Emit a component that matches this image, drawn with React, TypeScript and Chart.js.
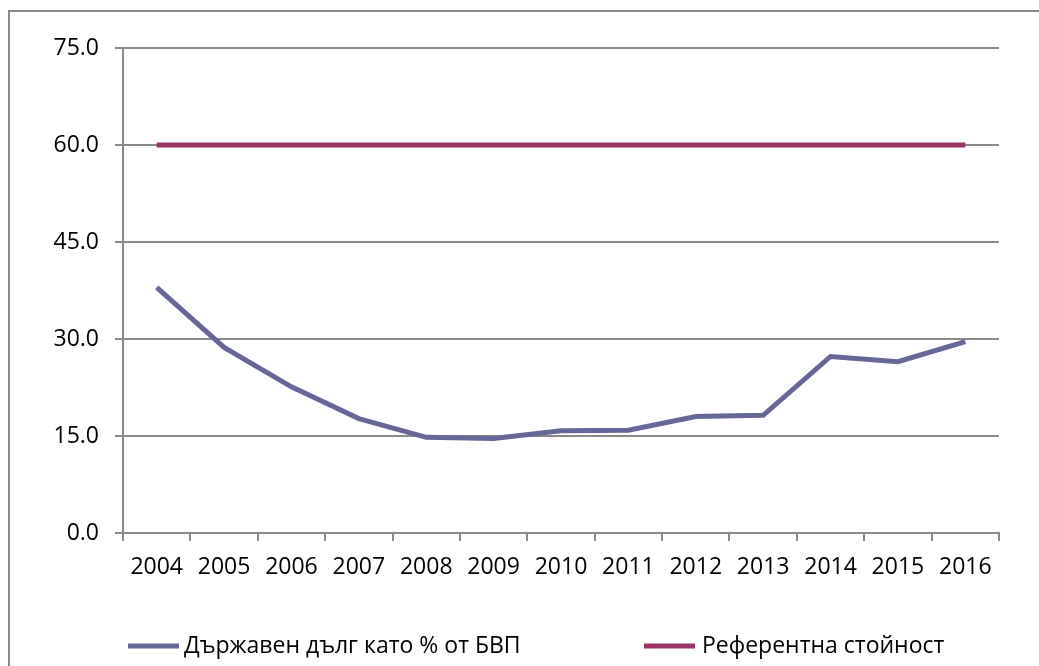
import React, { useEffect, useRef } from "react";
import { Chart, registerables } from "chart.js";

Chart.register(...registerables);

const years = ["2004", "2005", "2006", "2007", "2008", "2009", "2010", "2011", "2012", "2013", "2014", "2015", "2016"];
const debtValues = [38.0, 28.7, 22.6, 17.7, 14.8, 14.6, 15.8, 15.9, 18.0, 18.2, 27.3, 26.5, 29.6];
const referenceValues = [60, 60, 60, 60, 60, 60, 60, 60, 60, 60, 60, 60, 60];
const yTickValues = [0, 15, 30, 45, 60, 75];
const seriesLabels = ["Държавен дълг като % от БВП", "Референтна стойност"];
const seriesColors = ["#666699", "#993366"];

const FONT = "'Open Sans', sans-serif";
const FONT_SIZE = 23;
const GRID = "#8a8a8a";

const legendPlugin = {
  id: "customLegend",
  afterDraw(chart: any) {
    const ctx = chart.ctx;
    const y = 634;
    const items = [
      { x: 118, tx: 174 },
      { x: 634, tx: 692 },
    ];
    ctx.save();
    chart.data.datasets.forEach((ds: any, i: number) => {
      const it = items[i];
      ctx.fillStyle = ds.borderColor;
      ctx.fillRect(it.x, y - 2.5, 51, 5);
      ctx.fillStyle = "#000";
      ctx.font = `${FONT_SIZE}px ${FONT}`;
      ctx.textAlign = "left";
      ctx.textBaseline = "middle";
      ctx.fillText(ds.label, it.tx, y);
    });
    ctx.restore();
  },
};

export default function App() {
  const ref = useRef<HTMLCanvasElement | null>(null);

  useEffect(() => {
    if (!ref.current) return;
    const chart = new Chart(ref.current, {
      type: "line",
      data: {
        labels: years,
        datasets: [
          {
            label: seriesLabels[0],
            data: debtValues,
            borderColor: seriesColors[0],
            backgroundColor: seriesColors[0],
            borderWidth: 5,
            pointRadius: 0,
            tension: 0,
            fill: false,
          },
          {
            label: seriesLabels[1],
            data: referenceValues,
            borderColor: seriesColors[1],
            backgroundColor: seriesColors[1],
            borderWidth: 5,
            pointRadius: 0,
            tension: 0,
            fill: false,
          },
        ],
      },
      options: {
        animation: false,
        responsive: true,
        maintainAspectRatio: false,
        layout: { padding: { left: 0, right: 40, top: 36, bottom: 73 } },
        plugins: {
          legend: { display: false },
          tooltip: { enabled: false },
          title: { display: false },
        },
        scales: {
          x: {
            type: "category",
            offset: true,
            grid: {
              offset: true,
              drawOnChartArea: false,
              drawTicks: true,
              tickLength: 8,
              color: GRID,
              lineWidth: 2,
            },
            border: { display: true, color: GRID, width: 2 },
            ticks: {
              color: "#000",
              font: { family: FONT, size: FONT_SIZE },
              padding: 13,
              maxRotation: 0,
              autoSkip: false,
            },
            afterFit(scale: any) {
              scale.height = 60;
            },
          },
          y: {
            min: 0,
            max: 75,
            afterBuildTicks(scale: any) {
              scale.ticks = yTickValues.map((v) => ({ value: v }));
            },
            grid: {
              drawOnChartArea: true,
              drawTicks: true,
              tickLength: 8,
              color: GRID,
              lineWidth: 2,
            },
            border: { display: true, color: GRID, width: 2 },
            ticks: {
              color: "#000",
              font: { family: FONT, size: FONT_SIZE },
              padding: 16,
              callback: (v: any) => Number(v).toFixed(1),
            },
            afterFit(scale: any) {
              scale.width = 113;
            },
          },
        },
      },
      plugins: [legendPlugin],
    });
    return () => chart.destroy();
  }, []);

  return (
    <div
      style={{
        position: "fixed",
        left: 8,
        top: 10,
        right: 0,
        bottom: 0,
        borderTop: `2px solid ${GRID}`,
        borderLeft: `2px solid ${GRID}`,
        background: "#fff",
      }}
    >
      <div style={{ position: "relative", width: "100%", height: "100%" }}>
        <canvas ref={ref} />
      </div>
    </div>
  );
}
